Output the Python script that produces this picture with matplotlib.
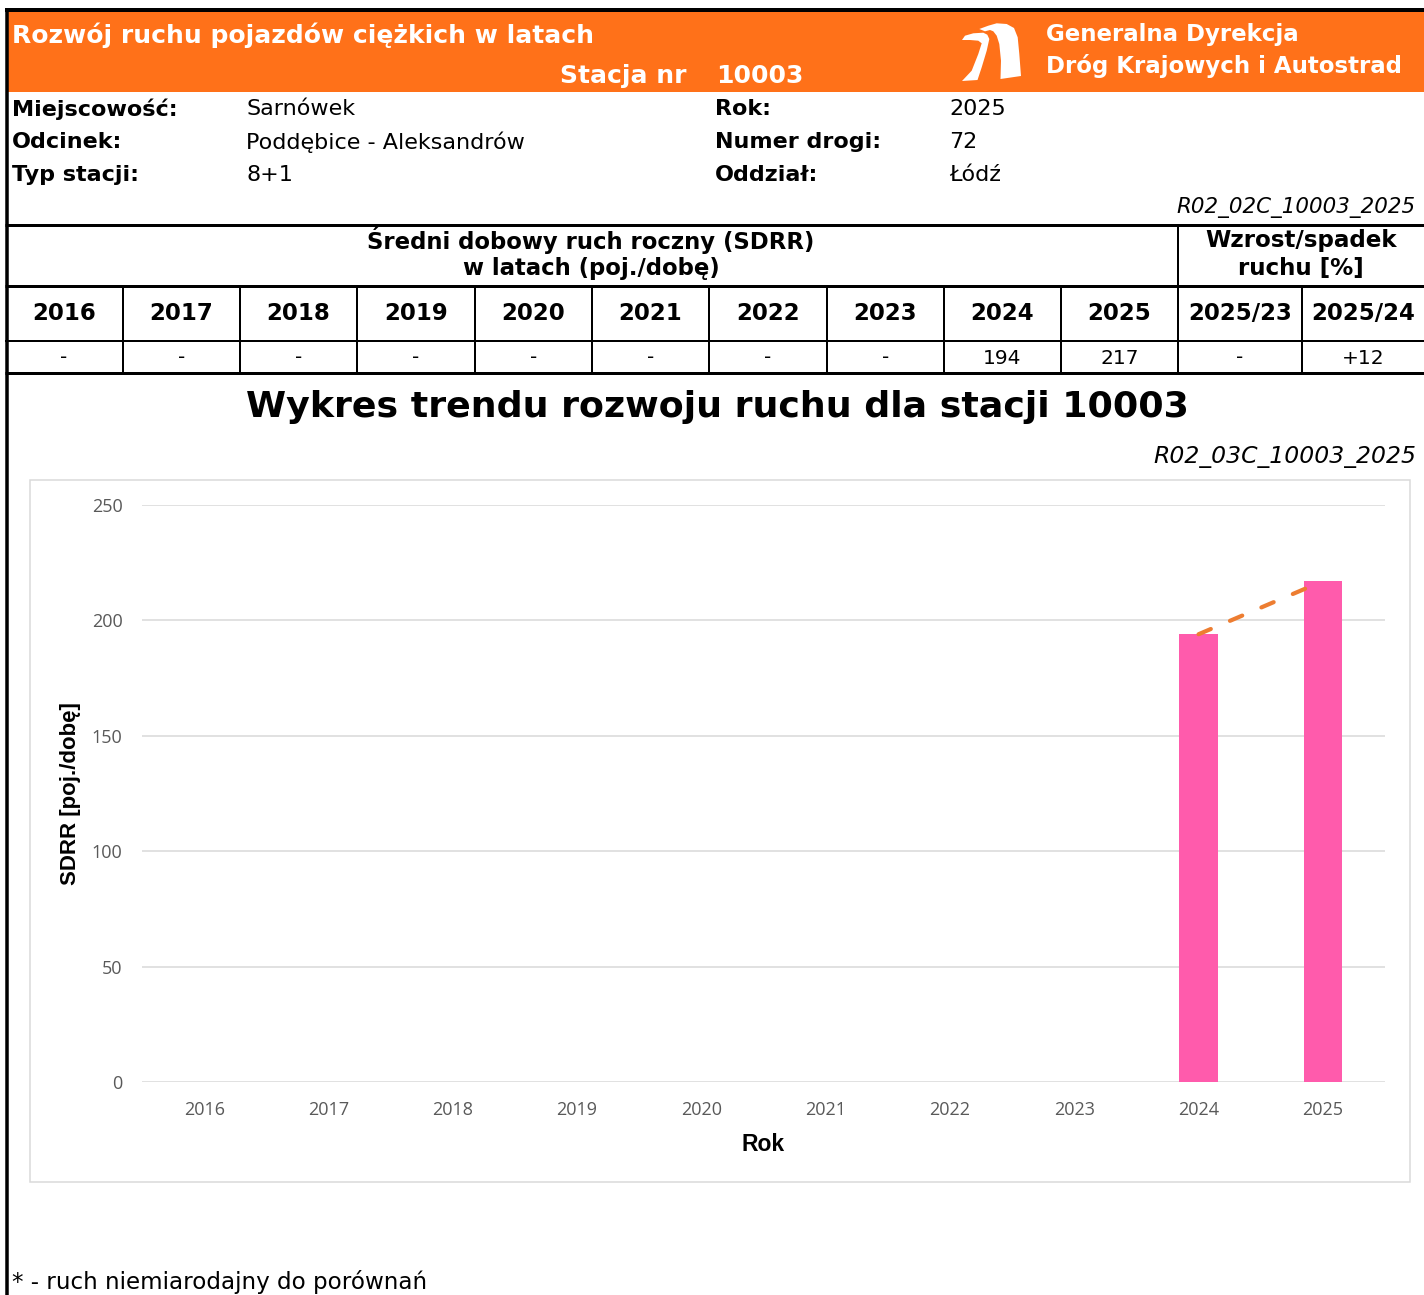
import matplotlib
matplotlib.use('Agg')
import matplotlib.pyplot as plt
from matplotlib.patches import Rectangle, Polygon
import numpy as np

# --- data ---
station = '10003'
years = ['2016', '2017', '2018', '2019', '2020', '2021', '2022', '2023', '2024', '2025']
sdrr = [None, None, None, None, None, None, None, None, 194, 217]
growth_labels = ['2025/23', '2025/24']
growth_values = ['-', '+12']
info_left = [('Miejscowość:', 'Sarnówek'), ('Odcinek:', 'Poddębice - Aleksandrów'), ('Typ stacji:', '8+1')]
info_right = [('Rok:', '2025'), ('Numer drogi:', '72'), ('Oddział:', 'Łódź')]

# --- style ---
plt.rcParams['font.family'] = ['DejaVu Sans']
ORANGE = '#FF7119'
PINK = '#FF5BAC'
TREND = '#ED7D31'
GRID = '#D9D9D9'
TICK = '#595959'

W, H = 1424, 1295
fig = plt.figure(figsize=(W / 100, H / 100), dpi=100)

# full-page canvas in pixel coordinates
bg = fig.add_axes([0, 0, 1, 1])
bg.set_xlim(0, W)
bg.set_ylim(H, 0)
bg.axis('off')

px = 0.72  # points per pixel

# header band
bg.add_patch(Rectangle((8, 12), W - 8, 80, color=ORANGE, lw=0))
bg.plot([5, W], [10, 10], color='black', lw=4 * px, solid_capstyle='butt')
bg.plot([6.5, 6.5], [8, H], color='black', lw=3.5 * px, solid_capstyle='butt')

bg.text(12, 35, 'Rozwój ruchu pojazdów ciężkich w latach', color='white', fontsize=18,
        fontweight='bold', va='center', ha='left')
bg.text(560, 76, 'Stacja nr', color='white', fontsize=18, fontweight='bold', va='center')
bg.text(716, 76, station, color='white', fontsize=18, fontweight='bold', va='center')
bg.text(1046, 34, 'Generalna Dyrekcja', color='white', fontsize=16.5, fontweight='bold', va='center')
bg.text(1046, 66, 'Dróg Krajowych i Autostrad', color='white', fontsize=16.5, fontweight='bold', va='center')

# logo (rough outline of two road strips)
left_piece = [(962, 40), (965, 35.7), (973.3, 33.3), (983.3, 32.7), (987.3, 34.7), (989.3, 39),
              (986.7, 50.7), (981.7, 67.3), (977.5, 80), (962, 81), (971.7, 70.7), (978.3, 54),
              (981.7, 43.3), (978.3, 40.7), (970, 40)]
right_piece = [(979.3, 29), (988.3, 25.7), (996.7, 23.3), (1006.7, 24), (1014, 28), (1017.7, 37.3),
               (1019.3, 54), (1021, 76), (1000.5, 79), (1001, 60.7), (999.3, 44), (996.7, 35.7),
               (993.3, 31.3), (990, 30), (985, 31.3)]
for pts in (left_piece, right_piece):
    bg.add_patch(Polygon(pts, closed=True, color='white', lw=0))

# station info
for i, (lab, val) in enumerate(info_left):
    y = 109 + i * 33
    bg.text(12, y, lab, fontsize=16, fontweight='bold', va='center')
    bg.text(246, y, val, fontsize=16, va='center')
for i, (lab, val) in enumerate(info_right):
    y = 109 + i * 33
    bg.text(715, y, lab, fontsize=16, fontweight='bold', va='center')
    bg.text(949, y, val, fontsize=16, va='center')
bg.text(1416, 208, 'R02_02C_' + station + '_2025', fontsize=15.4, style='italic', ha='right', va='center')

# table
col_edges = [5, 123, 240, 357, 475, 592, 709, 827, 944, 1061, 1178, 1302, W]
for y, lw in ((225, 3), (286, 3), (341, 2), (373, 3)):
    bg.plot([5, W], [y, y], color='black', lw=lw * px, solid_capstyle='butt')
bg.plot([1178, 1178], [225, 373], color='black', lw=2 * px)
for xe in col_edges[1:-1]:
    bg.plot([xe, xe], [286, 373], color='black', lw=2 * px)

bg.text(591, 240, 'Średni dobowy ruch roczny (SDRR)', fontsize=16.4, fontweight='bold', ha='center', va='center')
bg.text(591, 269, 'w latach (poj./dobę)', fontsize=16.4, fontweight='bold', ha='center', va='center')
bg.text(1301, 240, 'Wzrost/spadek', fontsize=16.6, fontweight='bold', ha='center', va='center')
bg.text(1301, 269, 'ruchu [%]', fontsize=16.6, fontweight='bold', ha='center', va='center')

heads = years + growth_labels
cells = ['-' if v is None else str(v) for v in sdrr] + growth_values
for i in range(len(heads)):
    xc = (col_edges[i] + col_edges[i + 1]) / 2
    bg.text(xc, 314, heads[i], fontsize=16.5, fontweight='bold', ha='center', va='center')
    bg.text(xc, 358, cells[i], fontsize=14.5, ha='center', va='center')

# chart titles
bg.text(717, 407, 'Wykres trendu rozwoju ruchu dla stacji ' + station, fontsize=26.2,
        fontweight='bold', ha='center', va='center')
bg.text(1416, 457, 'R02_03C_' + station + '_2025', fontsize=16.9, style='italic', ha='right', va='center')

# chart frame
bg.add_patch(Rectangle((30, 480), 1380, 702, fill=False, edgecolor=GRID, lw=1.5 * px))

bg.text(12, 1282, '* - ruch niemiarodajny do porównań', fontsize=16.6, va='center')

# --- chart ---
ax = fig.add_axes([142 / W, (H - 1082) / H, (1385 - 142) / W, (1082 - 505) / H])
x = np.arange(len(years))
xv = [i for i, v in enumerate(sdrr) if v is not None]
yv = [sdrr[i] for i in xv]
ax.bar(xv, yv, width=0.31, color=PINK, zorder=2)
ax.plot(xv, yv, color=TREND, lw=3, dashes=(3.2, 5.0), dash_capstyle='round', zorder=3)

ax.set_xlim(-0.5, len(years) - 0.5)
ax.set_ylim(0, 250)
ax.set_yticks(range(0, 251, 50))
ax.set_xticks(x)
ax.set_xticklabels(years)
ax.grid(axis='y', color=GRID, lw=1.1, zorder=0)
ax.set_axisbelow(True)
for s in ax.spines.values():
    s.set_visible(False)
ax.tick_params(length=0, labelcolor=TICK, labelsize=13)
ax.tick_params(axis='y', pad=14)
ax.tick_params(axis='x', pad=14)
for lab in ax.get_xticklabels() + ax.get_yticklabels():
    lab.set_family('Open Sans')

ax.set_xlabel('Rok', fontsize=16.5, fontweight='bold', family='Liberation Sans', labelpad=10)
ax.set_ylabel('SDRR [poj./dobę]', fontsize=16, fontweight='bold', family='Liberation Sans', labelpad=8)

fig.savefig('out.png', dpi=100)
